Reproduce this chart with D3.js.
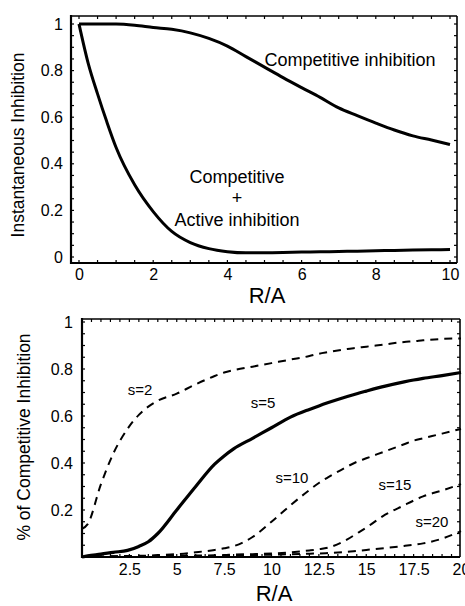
<!DOCTYPE html>
<html><head><meta charset="utf-8">
<script src="https://cdn.jsdelivr.net/npm/d3@7"></script>
<style>
html,body{margin:0;padding:0;background:#fff;}
svg{display:block;}
text{font-family:"Liberation Sans",Arial,Helvetica,sans-serif;fill:#000;}
</style></head>
<body>
<script>
// ---------- DATA: top panel ----------
const topX = [0, 0.25, 0.5, 0.75, 1, 1.5, 2, 2.5, 3, 3.5, 4, 4.5, 5, 5.5, 6, 6.5, 7, 7.5, 8, 8.5, 9, 9.5, 10];
const competitive = [1, 1, 1, 1, 1, 0.995, 0.985, 0.977, 0.962, 0.938, 0.905, 0.86, 0.815, 0.77, 0.727, 0.685, 0.64, 0.607, 0.575, 0.545, 0.52, 0.502, 0.483];
const compActive = [1, 0.83, 0.70, 0.58, 0.47, 0.31, 0.195, 0.11, 0.062, 0.036, 0.023, 0.018, 0.018, 0.019, 0.021, 0.022, 0.024, 0.025, 0.027, 0.028, 0.03, 0.031, 0.032];
const topXTicks = [0, 2, 4, 6, 8, 10];
const topYTicks = [0, 0.2, 0.4, 0.6, 0.8, 1];
const topYTickLabels = ["0", "0.2", "0.4", "0.6", "0.8", "1"];

// ---------- DATA: bottom panel ----------
const botX = [0, 0.3, 1, 1.65, 2.4, 3, 3.5, 4, 5, 6, 7, 7.5, 8, 9, 10, 11, 12, 12.5, 13, 14, 14.5, 15, 16, 17, 17.5, 18, 19, 20];
const s2  = [0.12, 0.14, 0.31, 0.44, 0.545, 0.605, 0.64, 0.665, 0.695, 0.735, 0.77, 0.785, 0.795, 0.81, 0.825, 0.84, 0.855, 0.865, 0.872, 0.885, 0.89, 0.895, 0.905, 0.915, 0.918, 0.922, 0.928, 0.93];
const s5  = [0, 0.005, 0.012, 0.02, 0.028, 0.045, 0.065, 0.1, 0.2, 0.3, 0.395, 0.43, 0.46, 0.505, 0.55, 0.595, 0.628, 0.643, 0.657, 0.683, 0.695, 0.706, 0.727, 0.745, 0.753, 0.76, 0.772, 0.785];
const s10 = [0, 0, 0.002, 0.003, 0.004, 0.005, 0.006, 0.008, 0.012, 0.02, 0.03, 0.037, 0.046, 0.085, 0.15, 0.22, 0.285, 0.315, 0.34, 0.385, 0.405, 0.42, 0.45, 0.48, 0.495, 0.505, 0.525, 0.545];
const s15 = [0, 0, 0.001, 0.002, 0.002, 0.003, 0.003, 0.004, 0.005, 0.006, 0.007, 0.008, 0.01, 0.012, 0.015, 0.02, 0.028, 0.033, 0.04, 0.075, 0.1, 0.125, 0.18, 0.22, 0.24, 0.258, 0.283, 0.31];
const s20 = [0, 0, 0, 0.001, 0.001, 0.001, 0.002, 0.002, 0.003, 0.003, 0.004, 0.005, 0.006, 0.008, 0.01, 0.012, 0.014, 0.015, 0.017, 0.022, 0.026, 0.03, 0.038, 0.047, 0.052, 0.058, 0.078, 0.11];
const botXTicks = [2.5, 5, 7.5, 10, 12.5, 15, 17.5, 20];
const botXTickLabels = ["2.5", "5", "7.5", "10", "12.5", "15", "17.5", "20"];
const botYTicks = [0.2, 0.4, 0.6, 0.8, 1];
const botYTickLabels = ["0.2", "0.4", "0.6", "0.8", "1"];

const W = 465, H = 606;
const svg = d3.select("body").append("svg").attr("width", W).attr("height", H);

// ---------- helpers ----------
function frame(g, L, R, T, B) {
  g.append("line").attr("x1", L).attr("x2", R).attr("y1", T).attr("y2", T).attr("stroke", "#000").attr("stroke-width", 1.6);
  g.append("line").attr("x1", R).attr("x2", R).attr("y1", T).attr("y2", B).attr("stroke", "#000").attr("stroke-width", 1.6);
  g.append("line").attr("x1", L).attr("x2", L).attr("y1", T - 1).attr("y2", B + 1).attr("stroke", "#000").attr("stroke-width", 2.2);
  g.append("line").attr("x1", L - 1).attr("x2", R).attr("y1", B).attr("y2", B).attr("stroke", "#000").attr("stroke-width", 2.2);
}
function minorTicks(g, x, y, L, R, T, B, xs, ys) {
  xs.forEach(v => {
    const px = x(v);
    if (px <= L + 1 || px >= R - 1) return;
    g.append("line").attr("x1", px).attr("x2", px).attr("y1", B).attr("y2", B - 3).attr("stroke", "#000").attr("stroke-width", 1.2);
    g.append("line").attr("x1", px).attr("x2", px).attr("y1", T).attr("y2", T + 3).attr("stroke", "#000").attr("stroke-width", 1.2);
  });
  ys.forEach(v => {
    const py = y(v);
    if (py <= T + 1 || py >= B - 1) return;
    g.append("line").attr("x1", L).attr("x2", L + 3).attr("y1", py).attr("y2", py).attr("stroke", "#000").attr("stroke-width", 1.2);
    g.append("line").attr("x1", R).attr("x2", R - 3).attr("y1", py).attr("y2", py).attr("stroke", "#000").attr("stroke-width", 1.2);
  });
}

// ================= TOP PANEL =================
{
  const x = d3.scaleLinear().domain([0, 10]).range([79, 450]);
  const y = d3.scaleLinear().domain([0, 1]).range([257, 24]);
  const L = 71, R = 457, T = 16, B = 263;
  const g = svg.append("g");
  frame(g, L, R, T, B);
  minorTicks(g, x, y, L, R, T, B, d3.range(0, 10.01, 0.5), d3.range(0, 1.01, 0.05));

  const ax = g.append("g").attr("transform", `translate(0,${B})`)
    .call(d3.axisBottom(x).tickValues(topXTicks).tickFormat(d3.format("d")).tickSize(0).tickPadding(6));
  ax.select(".domain").remove();
  ax.selectAll("text").style("font-size", "16px").attr("font-family", null);
  const ay = g.append("g").attr("transform", `translate(${L},0)`)
    .call(d3.axisLeft(y).tickValues(topYTicks).tickFormat((d, i) => topYTickLabels[i]).tickSize(0).tickPadding(8));
  ay.select(".domain").remove();
  ay.selectAll("text").style("font-size", "16px").attr("font-family", null);

  const line = d3.line().x(d => x(d[0])).y(d => y(d[1])).curve(d3.curveMonotoneX);
  g.append("path").datum(topX.map((v, i) => [v, competitive[i]])).attr("d", line)
    .attr("fill", "none").attr("stroke", "#000").attr("stroke-width", 3).attr("stroke-linejoin", "round");
  g.append("path").datum(topX.map((v, i) => [v, compActive[i]])).attr("d", line)
    .attr("fill", "none").attr("stroke", "#000").attr("stroke-width", 3).attr("stroke-linejoin", "round");

  g.append("text").attr("x", 350).attr("y", 66).attr("text-anchor", "middle").style("font-size", "18px").text("Competitive inhibition");
  g.append("text").attr("x", 237).attr("y", 183).attr("text-anchor", "middle").style("font-size", "18px").text("Competitive");
  g.append("text").attr("x", 237).attr("y", 204).attr("text-anchor", "middle").style("font-size", "18px").text("+");
  g.append("text").attr("x", 237).attr("y", 226).attr("text-anchor", "middle").style("font-size", "18px").text("Active inhibition");

  g.append("text").attr("transform", "translate(24,145) rotate(-90)").attr("text-anchor", "middle").style("font-size", "17.5px").text("Instantaneous Inhibition");
  g.append("text").attr("x", 267).attr("y", 303).attr("text-anchor", "middle").style("font-size", "22px").text("R/A");
}

// ================= BOTTOM PANEL =================
{
  const x = d3.scaleLinear().domain([0, 20]).range([82, 461]);
  const y = d3.scaleLinear().domain([0, 1]).range([557, 322]);
  const L = 82, R = 460, T = 319, B = 557;
  const g = svg.append("g");

  const line = d3.line().x(d => x(d[0])).y(d => y(d[1])).curve(d3.curveMonotoneX);
  const dashed = [s2, s10, s15, s20];
  dashed.forEach(s => {
    g.append("path").datum(botX.map((v, i) => [v, s[i]])).attr("d", line)
      .attr("fill", "none").attr("stroke", "#000").attr("stroke-width", 2).attr("stroke-dasharray", "8,6");
  });
  g.append("path").datum(botX.map((v, i) => [v, s5[i]])).attr("d", line)
    .attr("fill", "none").attr("stroke", "#000").attr("stroke-width", 3.2).attr("stroke-linejoin", "round");

  frame(g, L, R, T, B);
  minorTicks(g, x, y, L, R, T, B, d3.range(0, 20.01, 0.5), d3.range(0, 1.01, 0.05));

  const ax = g.append("g").attr("transform", `translate(0,${B})`)
    .call(d3.axisBottom(x).tickValues(botXTicks).tickFormat((d, i) => botXTickLabels[i]).tickSize(0).tickPadding(7));
  ax.select(".domain").remove();
  ax.selectAll("text").style("font-size", "16px").attr("font-family", null);
  const ay = g.append("g").attr("transform", `translate(${L},0)`)
    .call(d3.axisLeft(y).tickValues(botYTicks).tickFormat((d, i) => botYTickLabels[i]).tickSize(0).tickPadding(9));
  ay.select(".domain").remove();
  ay.selectAll("text").style("font-size", "16px").attr("font-family", null);

  const lab = [["s=2", 140, 395], ["s=5", 263, 408], ["s=10", 292, 483], ["s=15", 395, 490], ["s=20", 432, 527]];
  lab.forEach(l => g.append("text").attr("x", l[1]).attr("y", l[2]).attr("text-anchor", "middle").style("font-size", "15px").text(l[0]));

  g.append("text").attr("transform", "translate(30,437) rotate(-90)").attr("text-anchor", "middle").style("font-size", "17.5px").text("% of Competitive Inhibition");
  g.append("text").attr("x", 274).attr("y", 601).attr("text-anchor", "middle").style("font-size", "22px").text("R/A");
}
</script>
</body></html>
